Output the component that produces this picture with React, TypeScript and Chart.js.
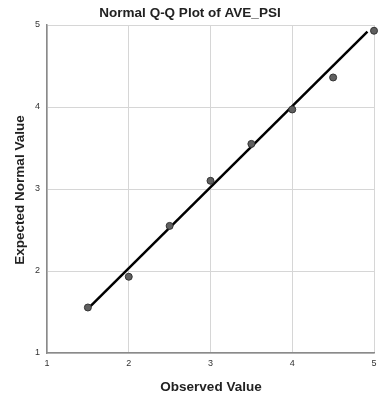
import React, { useEffect, useRef } from "react";
import { Chart, registerables } from "chart.js";

Chart.register(...registerables);

const observed = [1.5, 2.0, 2.5, 3.0, 3.5, 4.0, 4.5, 5.0];
const expected = [1.555, 1.93, 2.55, 3.1, 3.55, 3.97, 4.36, 4.93];
const lineX = [1.52, 4.92];
const lineY = [1.56, 4.92];
const tickValues = [1, 2, 3, 4, 5];

const chartTitle = "Normal Q-Q Plot of AVE_PSI";
const xTitle = "Observed Value";
const yTitle = "Expected Normal Value";

const FONT = "'Liberation Sans', Arial, sans-serif";

const textPlugin = {
  id: "textPlugin",
  afterDraw(chart: any) {
    const ctx = chart.ctx;
    ctx.save();
    ctx.fillStyle = "#222";
    ctx.font = `bold 13.5px ${FONT}`;
    ctx.textAlign = "center";
    ctx.textBaseline = "middle";
    ctx.fillText(chartTitle, 190, 13);
    ctx.fillText(xTitle, 211, 387);
    ctx.translate(20, 190);
    ctx.rotate(-Math.PI / 2);
    ctx.fillText(yTitle, 0, 0);
    ctx.restore();
  },
};

export default function App() {
  const ref = useRef<HTMLCanvasElement>(null);
  useEffect(() => {
    if (!ref.current) return;
    const chart = new Chart(ref.current, {
      type: "scatter",
      data: {
        datasets: [
          {
            data: lineX.map((x, i) => ({ x, y: lineY[i] })),
            showLine: true,
            borderColor: "#000",
            borderWidth: 2.5,
            pointRadius: 0,
            order: 2,
          },
          {
            data: observed.map((x, i) => ({ x, y: expected[i] })),
            pointRadius: 3.5,
            pointBackgroundColor: "#606060",
            pointBorderColor: "#333",
            pointBorderWidth: 1,
            clip: false as any,
            order: 1,
          },
        ],
      },
      options: {
        animation: false,
        responsive: true,
        maintainAspectRatio: false,
        layout: { padding: { top: 25, right: 4, left: 0, bottom: 0 } },
        plugins: {
          legend: { display: false },
          tooltip: { enabled: false },
          title: { display: false },
        },
        scales: {
          x: {
            type: "linear",
            min: 1,
            max: 5,
            afterFit: (s: any) => {
              s.height = 45;
              s.paddingLeft = 0;
              s.paddingRight = 0;
            },
            afterBuildTicks: (s: any) => {
              s.ticks = tickValues.map((v) => ({ value: v }));
            },
            ticks: {
              font: { size: 9, family: FONT },
              color: "#333",
              padding: 5,
              maxRotation: 0,
            },
            grid: { color: "#d6d6d6", drawTicks: false, lineWidth: 1 },
            border: { color: "#8a8a8a", width: 1.5 },
          },
          y: {
            type: "linear",
            min: 1,
            max: 5,
            afterFit: (s: any) => {
              s.width = 47;
              s.paddingTop = 0;
              s.paddingBottom = 0;
            },
            afterBuildTicks: (s: any) => {
              s.ticks = tickValues.map((v) => ({ value: v }));
            },
            ticks: {
              font: { size: 9, family: FONT },
              color: "#333",
              padding: 7,
            },
            grid: { color: "#d6d6d6", drawTicks: false, lineWidth: 1 },
            border: { color: "#8a8a8a", width: 1.5 },
          },
        },
      },
      plugins: [textPlugin],
    });
    return () => chart.destroy();
  }, []);
  return (
    <div style={{ position: "absolute", left: 0, top: 0, width: 379, height: 398, background: "#fff" }}>
      <canvas ref={ref} />
    </div>
  );
}
